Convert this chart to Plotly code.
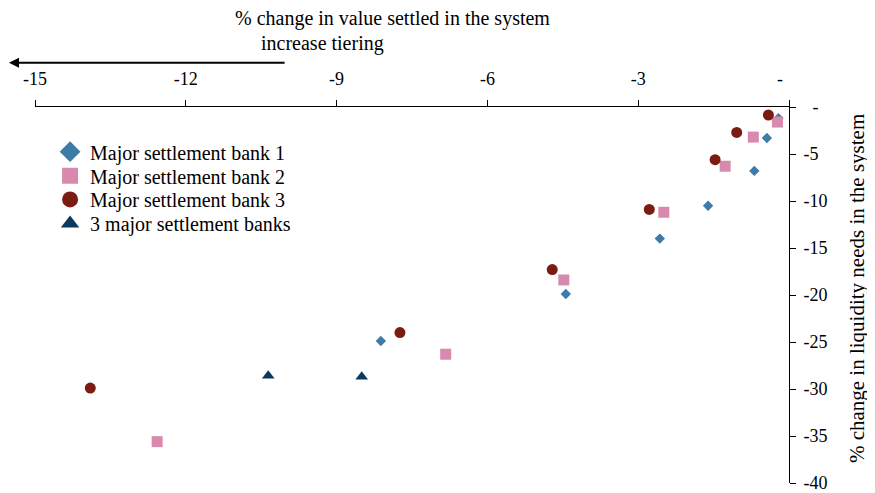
import plotly.graph_objects as go

# Data (x: % change in value settled, y: % change in liquidity needs)
bank1_x = [-0.21, -0.44, -0.69, -1.61, -2.57, -4.44, -8.12]
bank1_y = [-1.2, -3.3, -6.8, -10.5, -14.0, -19.9, -24.9]

bank2_x = [-0.23, -0.71, -1.27, -2.49, -4.48, -6.83, -12.57]
bank2_y = [-1.6, -3.2, -6.3, -11.2, -18.4, -26.3, -35.6]

bank3_x = [-0.41, -1.04, -1.47, -2.78, -4.71, -7.74, -13.90]
bank3_y = [-0.85, -2.7, -5.6, -10.9, -17.3, -24.0, -29.9]

all3_x = [-10.36, -8.50]
all3_y = [-28.6, -28.7]

series_names = [
    "Major settlement bank 1",
    "Major settlement bank 2",
    "Major settlement bank 3",
    "3 major settlement banks",
]

x_tickvals = [-15, -12, -9, -6, -3, 0]
x_ticktext = ["-15", "-12", "-9", "-6", "-3", "-\u00a0\u00a0\u00a0\u00a0"]
y_tickvals = [0, -5, -10, -15, -20, -25, -30, -35, -40]
y_ticktext = ["\u00a0\u00a0-", "-5", "-10", "-15", "-20", "-25", "-30", "-35", "-40"]

FONT = "Liberation Serif"

# the page body has an 8px margin, so the figure is drawn 8px smaller
W, H = 867, 485


def main():
    fig = graph()
    fig.write_html("out.html")


def graph():
    fig = go.Figure()

    styles = [
        (bank1_x, bank1_y, "diamond", "#3d7ca8", 8),
        (bank2_x, bank2_y, "square", "#d78aae", 11),
        (bank3_x, bank3_y, "circle", "#7b1c12", 11),
        (all3_x, all3_y, "triangle-up", "#0c3a5e", 11),
    ]

    # data points (legend is drawn by separate empty traces with bigger symbols)
    for (xs, ys, sym, col, size), name in zip(styles, series_names):
        fig.add_trace(
            go.Scatter(
                x=xs,
                y=ys,
                mode="markers",
                name=name,
                showlegend=False,
                marker=dict(symbol=sym, color=col, size=size, line=dict(width=0)),
            )
        )

    # one legend per entry so the rows can sit closer together
    legend_ids = ["legend", "legend2", "legend3", "legend4"]
    legend_tops = [0.933, 0.869, 0.806, 0.742]
    for (xs, ys, sym, col, size), name, lid in zip(styles, series_names, legend_ids):
        fig.add_trace(
            go.Scatter(
                x=[None],
                y=[None],
                mode="markers",
                name=name,
                legend=lid,
                marker=dict(symbol=sym, color=col, size=16, line=dict(width=0)),
            )
        )

    legend_style = dict(
        x=0.02,
        xanchor="left",
        yanchor="top",
        bgcolor="rgba(0,0,0,0)",
        font=dict(size=20),
    )
    fig.update_layout(
        width=W,
        height=H,
        margin=dict(l=27, r=86, t=99, b=10),
        paper_bgcolor="white",
        plot_bgcolor="white",
        font=dict(family=FONT, size=18, color="black"),
        legend=dict(y=legend_tops[0], **legend_style),
        legend2=dict(y=legend_tops[1], **legend_style),
        legend3=dict(y=legend_tops[2], **legend_style),
        legend4=dict(y=legend_tops[3], **legend_style),
    )

    fig.update_xaxes(
        side="top",
        range=[-15, 0],
        tickvals=x_tickvals,
        ticktext=x_ticktext,
        tickfont=dict(size=18),
        ticks="outside",
        ticklen=6,
        tickcolor="black",
        showline=True,
        linecolor="black",
        linewidth=1,
        showgrid=False,
        zeroline=False,
        automargin=False,
        ticklabelstandoff=8,
        ticklabeloverflow="allow",
    )
    fig.update_yaxes(
        side="right",
        range=[-40, 0],
        tickvals=y_tickvals,
        ticktext=y_ticktext,
        tickfont=dict(size=18),
        ticks="outside",
        ticklen=6,
        tickcolor="black",
        showline=True,
        linecolor="black",
        linewidth=1,
        showgrid=False,
        zeroline=False,
        automargin=False,
        ticklabelstandoff=4,
        ticklabeloverflow="allow",
    )

    # y axis title as a rotated annotation (axis titles get squeezed into the margin)
    fig.add_annotation(
        text="% change in liquidity needs in the system",
        xref="paper", yref="paper", x=1.090, y=0.518,
        textangle=-90, showarrow=False, xanchor="center", yanchor="middle",
        font=dict(size=21),
    )

    # x axis title (two lines, placed separately) and the direction arrow
    fig.add_annotation(
        text="% change in value settled in the system",
        xref="paper", yref="paper", x=0.474, y=1.236,
        showarrow=False, xanchor="center", yanchor="middle",
        font=dict(size=20),
    )
    fig.add_annotation(
        text="increase tiering",
        xref="paper", yref="paper", x=0.381, y=1.170,
        showarrow=False, xanchor="center", yanchor="middle",
        font=dict(size=20),
    )
    fig.add_annotation(
        text="",
        xref="paper", yref="paper", x=-0.037, y=1.118,
        ax=279, ay=0, axref="pixel", ayref="pixel",
        showarrow=True, arrowhead=2, arrowsize=1, arrowwidth=2, arrowcolor="black",
    )

    return fig


if __name__ == "__main__":
    main()
